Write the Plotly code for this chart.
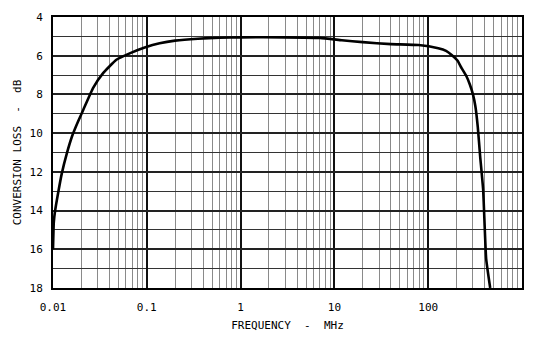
import plotly.graph_objects as go

freq_mhz = [0.0100, 0.0102, 0.0105, 0.0114, 0.0124, 0.0140, 0.0160, 0.0185,
            0.0210, 0.0268, 0.0342, 0.0474, 0.0657, 0.095, 0.137, 0.2, 0.35, 0.6,
            1.0, 3.0, 7.0, 12, 20, 40, 79, 128, 155, 178, 205, 227, 255, 278, 300,
            318, 338, 358, 385, 415, 458]
loss_db = [16.0, 14.6, 14.05, 13.03, 12.09, 11.07, 10.15, 9.4,
           8.8, 7.66, 6.90, 6.21, 5.88, 5.58, 5.36, 5.22, 5.12, 5.07,
           5.05, 5.05, 5.08, 5.2, 5.3, 5.4, 5.45, 5.62, 5.75, 5.96, 6.25, 6.64, 7.05, 7.49, 8.0,
           8.6, 9.7, 11.2, 12.9, 16.5, 18.0]

x_tickvals = [0.01, 0.1, 1, 10, 100, 1000]
x_ticktext = ["0.01", "0.1", "1", "10", "100", "1000"]
y_tickvals = [4, 6, 8, 10, 12, 14, 16, 18]

font_family = "DejaVu Sans Mono"

fig = go.Figure()
fig.add_trace(go.Scatter(x=freq_mhz, y=loss_db, mode="lines",
                         line=dict(color="black", width=2.6, shape="spline", smoothing=0.4),
                         showlegend=False, hoverinfo="skip"))

fig.update_layout(
    width=535, height=341,
    margin=dict(l=53, r=11, t=15, b=52),
    paper_bgcolor="white", plot_bgcolor="white",
    font=dict(family=font_family, size=11, color="black"),
    xaxis=dict(type="log", range=[-2, 3],
               tickvals=x_tickvals, ticktext=x_ticktext,
               showgrid=True, gridcolor="#111111", gridwidth=1.6,
               minor=dict(dtick="D1", showgrid=True, gridcolor="#8a8a8a", gridwidth=1.2, ticks=""),
               showline=True, linecolor="black", linewidth=2, mirror=True,
               ticks="", tickfont=dict(size=11), ticklabelstandoff=8,
               title=dict(text="FREQUENCY  -  MHz", font=dict(size=11), standoff=8),
               zeroline=False),
    yaxis=dict(range=[18, 4], tickvals=y_tickvals,
               showgrid=True, gridcolor="#222222", gridwidth=1.6,
               minor=dict(dtick=1, showgrid=True, gridcolor="#333333", gridwidth=1.4, ticks=""),
               showline=True, linecolor="black", linewidth=2, mirror=True,
               ticks="", tickfont=dict(size=11), ticklabelstandoff=6,
               title=dict(text="CONVERSION LOSS  -  dB", font=dict(size=11), standoff=6),
               zeroline=False),
)

fig.write_html("out.html")
